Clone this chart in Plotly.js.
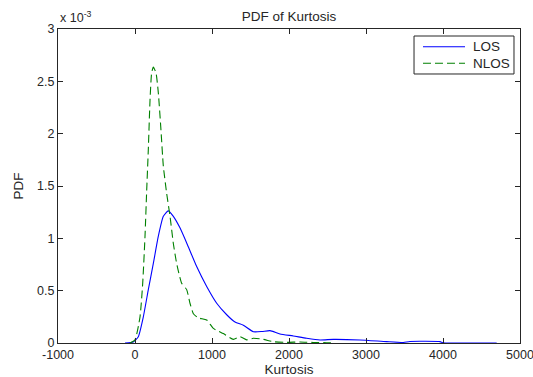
<!DOCTYPE html>
<html>
<head>
<meta charset="utf-8">
<script src="https://cdn.plot.ly/plotly-3.0.1.min.js"></script>
<style>
  html, body { margin: 0; padding: 0; background: #fff; }
  #chart { width: 533px; height: 377px; }
</style>
</head>
<body>
<div id="chart"></div>
<script>
// Kernel density estimates of the kurtosis feature (PDF values in units of 1e-3)
const losKurtosis = [-130, -22, 43, 108, 173, 238, 303, 368, 432, 498, 584, 692, 801, 931, 1061, 1191, 1299, 1407, 1537, 1650, 1753, 1883, 2056, 2229, 2403, 2576, 2922, 3268, 3485, 3571, 3961, 4000, 4697];
const losPdf = [0, 0.01, 0.06, 0.25, 0.51, 0.76, 1.02, 1.21, 1.262, 1.21, 1.10, 0.92, 0.73, 0.54, 0.38, 0.27, 0.20, 0.17, 0.108, 0.11, 0.118, 0.086, 0.067, 0.045, 0.029, 0.035, 0.029, 0.013, 0.005, 0.015, 0.013, 0.003, 0.0];

const nlosKurtosis = [-65, 0, 65, 100, 130, 152, 173, 195, 216, 238, 273, 303, 334, 368, 411, 455, 498, 541, 606, 671, 714, 758, 822, 931, 1017, 1147, 1277, 1364, 1450, 1537, 1667, 1796, 1970, 2143, 2316, 2489, 2576];
const nlosPdf = [0, 0.03, 0.25, 0.57, 1.02, 1.46, 1.85, 2.32, 2.58, 2.636, 2.58, 2.39, 2.07, 1.69, 1.43, 1.21, 0.95, 0.76, 0.57, 0.51, 0.38, 0.28, 0.24, 0.22, 0.14, 0.09, 0.035, 0.06, 0.03, 0.045, 0.035, 0.012, 0.006, 0.01, 0.005, 0.003, 0];

const seriesNames = ['LOS', 'NLOS'];
const seriesColors = ['#0000ff', '#008000'];
const seriesDash = ['solid', '8px,4px'];

const xTicks = [-1000, 0, 1000, 2000, 3000, 4000, 5000];
const yTicks = [0, 0.5, 1, 1.5, 2, 2.5, 3];
const yTickText = ['0', '0.5', '1', '1.5', '2', '2.5', '3'];

const FONT = 'Liberation Sans, Arial, sans-serif';
const INK = '#262626';

const traces = [
  {
    x: losKurtosis, y: losPdf, name: seriesNames[0], type: 'scatter', mode: 'lines',
    line: { color: seriesColors[0], width: 1.1, dash: seriesDash[0], shape: 'spline', smoothing: 0.5 }
  },
  {
    x: nlosKurtosis, y: nlosPdf, name: seriesNames[1], type: 'scatter', mode: 'lines',
    line: { color: seriesColors[1], width: 1.1, dash: seriesDash[1], shape: 'spline', smoothing: 0.5 }
  }
];

const axisCommon = {
  showline: true, linecolor: INK, linewidth: 1, mirror: 'allticks',
  ticks: 'inside', ticklen: 5, tickcolor: INK, tickwidth: 1,
  showgrid: false, zeroline: false, ticklabeloverflow: 'allow',
  tickfont: { family: FONT, size: 12.5, color: INK }
};

// Boxed key in the upper-right corner of the axes (paper coordinates)
const key = { x0: 0.7706, x1: 0.987, y0: 0.8567, y1: 0.9777, lineX0: 0.790, lineX1: 0.881, textX: 0.894, rows: [0.9436, 0.8908] };

const shapes = [
  { type: 'rect', xref: 'paper', yref: 'paper', x0: key.x0, x1: key.x1, y0: key.y0, y1: key.y1,
    line: { color: INK, width: 1 }, fillcolor: '#fff', layer: 'above' }
];
const annotations = [
  {
    text: 'x 10<sup>-3</sup>', xref: 'paper', yref: 'paper', x: 0, y: 1,
    xanchor: 'left', yanchor: 'bottom', yshift: 2, showarrow: false,
    font: { family: FONT, size: 12.5, color: INK }
  }
];
seriesNames.forEach((name, i) => {
  shapes.push({ type: 'line', xref: 'paper', yref: 'paper', x0: key.lineX0, x1: key.lineX1,
    y0: key.rows[i], y1: key.rows[i], line: { color: seriesColors[i], width: 1.1, dash: seriesDash[i] }, layer: 'above' });
  annotations.push({ text: name, xref: 'paper', yref: 'paper', x: key.textX, y: key.rows[i],
    xanchor: 'left', yanchor: 'middle', showarrow: false, font: { family: FONT, size: 13.5, color: INK } });
});

const layout = {
  width: 533, height: 377,
  margin: { l: 58, r: 13, t: 29, b: 34, pad: 0 },
  paper_bgcolor: '#fff', plot_bgcolor: '#fff',
  showlegend: false,
  title: {
    text: 'PDF of Kurtosis', font: { family: FONT, size: 13.5, color: INK },
    x: 0.5, xref: 'paper', y: 1 - 16 / 377, yref: 'container', yanchor: 'middle'
  },
  xaxis: Object.assign({}, axisCommon, {
    range: [-1000, 5000], tickvals: xTicks, ticktext: xTicks.map(String),
    title: { text: 'Kurtosis', font: { family: FONT, size: 13.5, color: INK }, standoff: 4 }
  }),
  yaxis: Object.assign({}, axisCommon, {
    range: [0, 3], tickvals: yTicks, ticktext: yTickText,
    title: { text: 'PDF', font: { family: FONT, size: 13.5, color: INK }, standoff: 10 }
  }),
  shapes: shapes,
  annotations: annotations
};

Plotly.newPlot('chart', traces, layout, { displayModeBar: false, staticPlot: true });
</script>
</body>
</html>
